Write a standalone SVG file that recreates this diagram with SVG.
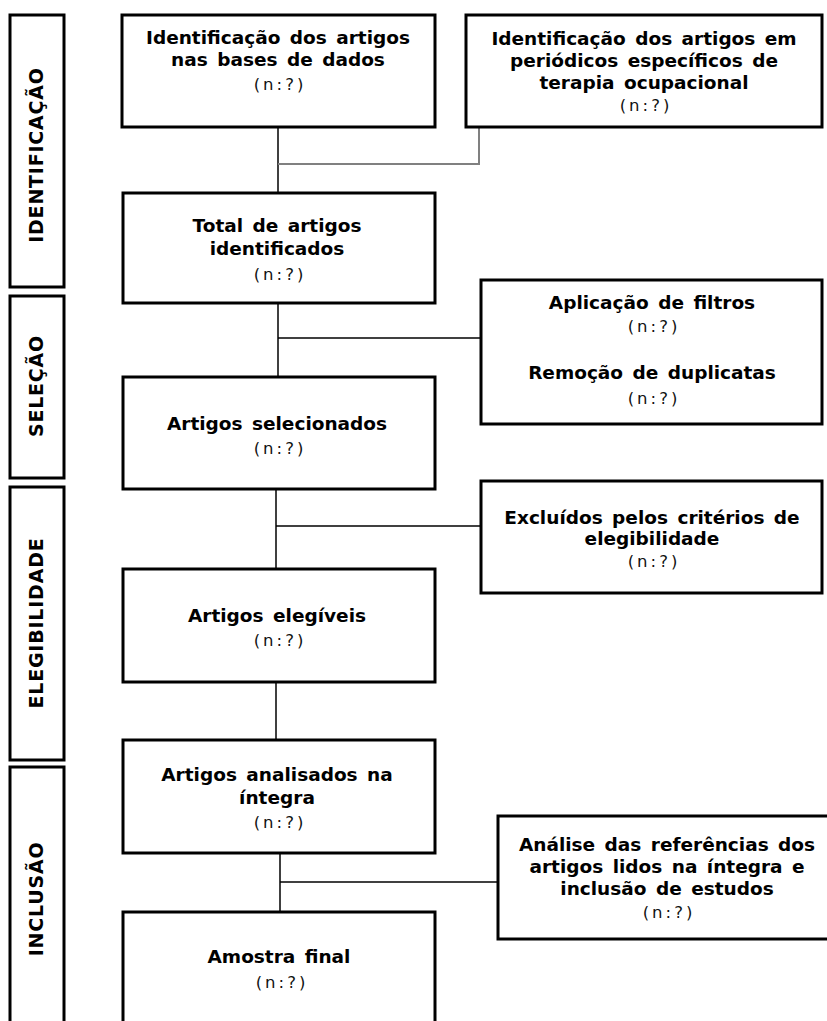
<svg xmlns="http://www.w3.org/2000/svg" width="827" height="1021" viewBox="0 0 827 1021">
<style>
.box{fill:#fff;stroke:#000;stroke-width:3}
.t{font-family:"DejaVu Sans",Verdana,sans-serif;font-weight:bold;font-size:18.5px;word-spacing:3px;fill:#000;text-anchor:middle}
.n{font-family:"DejaVu Sans",Verdana,sans-serif;font-size:16.5px;fill:#111;text-anchor:middle;letter-spacing:3px}
.side{font-family:"DejaVu Sans",Verdana,sans-serif;font-weight:bold;font-size:19px;letter-spacing:0.8px;fill:#000;text-anchor:middle}
.c{fill:none;stroke:#000;stroke-width:1.5}
.cg{fill:none;stroke:#808080;stroke-width:2}
</style>
<rect width="827" height="1021" fill="#fff"/>
<g id="connectors">
<line class="c" x1="278" y1="127" x2="278" y2="193"/>
<polyline class="cg" points="479,127 479,164 278,164"/>
<line class="c" x1="278" y1="303" x2="278" y2="377"/>
<line class="c" x1="278" y1="338" x2="481" y2="338"/>
<line class="c" x1="276" y1="489" x2="276" y2="569"/>
<line class="c" x1="276" y1="526" x2="481" y2="526"/>
<line class="c" x1="276" y1="682" x2="276" y2="740"/>
<line class="c" x1="280" y1="853" x2="280" y2="912"/>
<line class="c" x1="280" y1="882" x2="498" y2="882"/>
</g>
<g id="lane-identificacao">
<rect class="box" x="10" y="15" width="54" height="272"/>
<text class="side" transform="translate(37,155) rotate(-90)" y="5.5">IDENTIFICAÇÃO</text>
</g>
<g id="lane-selecao">
<rect class="box" x="10" y="296" width="54" height="182"/>
<text class="side" transform="translate(37,386) rotate(-90)" y="5.5">SELEÇÃO</text>
</g>
<g id="lane-elegibilidade">
<rect class="box" x="10" y="487" width="54" height="273"/>
<text class="side" transform="translate(37,623) rotate(-90)" y="5.5">ELEGIBILIDADE</text>
</g>
<g id="lane-inclusao">
<rect class="box" x="10" y="767" width="54" height="268"/>
<text class="side" transform="translate(37,899) rotate(-90)" y="5.5">INCLUSÃO</text>
</g>
<g id="n1">
<rect class="box" x="122" y="15" width="313" height="112"/>
<text class="t" x="278" y="44">Identificação dos artigos</text>
<text class="t" x="278" y="66">nas bases de dados</text>
<text class="n" x="280" y="90">(n:?)</text>
</g>
<g id="n2">
<rect class="box" x="466" y="15" width="356" height="112"/>
<text class="t" x="644" y="45">Identificação dos artigos em</text>
<text class="t" x="644" y="67">periódicos específicos de</text>
<text class="t" x="644" y="89">terapia ocupacional</text>
<text class="n" x="646" y="111">(n:?)</text>
</g>
<g id="n3">
<rect class="box" x="123" y="193" width="312" height="110"/>
<text class="t" x="277" y="232">Total de artigos</text>
<text class="t" x="277" y="255">identificados</text>
<text class="n" x="280" y="280">(n:?)</text>
</g>
<g id="n4">
<rect class="box" x="481" y="280" width="341" height="144"/>
<text class="t" x="652" y="309">Aplicação de filtros</text>
<text class="n" x="654" y="332">(n:?)</text>
<text class="t" x="652" y="379">Remoção de duplicatas</text>
<text class="n" x="654" y="404">(n:?)</text>
</g>
<g id="n5">
<rect class="box" x="123" y="377" width="312" height="112"/>
<text class="t" x="277" y="430">Artigos selecionados</text>
<text class="n" x="280" y="454">(n:?)</text>
</g>
<g id="n6">
<rect class="box" x="481" y="481" width="341" height="112"/>
<text class="t" x="652" y="524">Excluídos pelos critérios de</text>
<text class="t" x="652" y="545">elegibilidade</text>
<text class="n" x="654" y="567">(n:?)</text>
</g>
<g id="n7">
<rect class="box" x="123" y="569" width="312" height="113"/>
<text class="t" x="277" y="622">Artigos elegíveis</text>
<text class="n" x="280" y="646">(n:?)</text>
</g>
<g id="n8">
<rect class="box" x="123" y="740" width="312" height="113"/>
<text class="t" x="277" y="781">Artigos analisados na</text>
<text class="t" x="277" y="804">íntegra</text>
<text class="n" x="280" y="828">(n:?)</text>
</g>
<g id="n9">
<rect class="box" x="498" y="816" width="340" height="123"/>
<text class="t" x="667" y="851">Análise das referências dos</text>
<text class="t" x="667" y="873">artigos lidos na íntegra e</text>
<text class="t" x="667" y="895">inclusão de estudos</text>
<text class="n" x="669" y="918">(n:?)</text>
</g>
<g id="n10">
<rect class="box" x="123" y="912" width="312" height="125"/>
<text class="t" x="279" y="963">Amostra final</text>
<text class="n" x="282" y="988">(n:?)</text>
</g>
</svg>
